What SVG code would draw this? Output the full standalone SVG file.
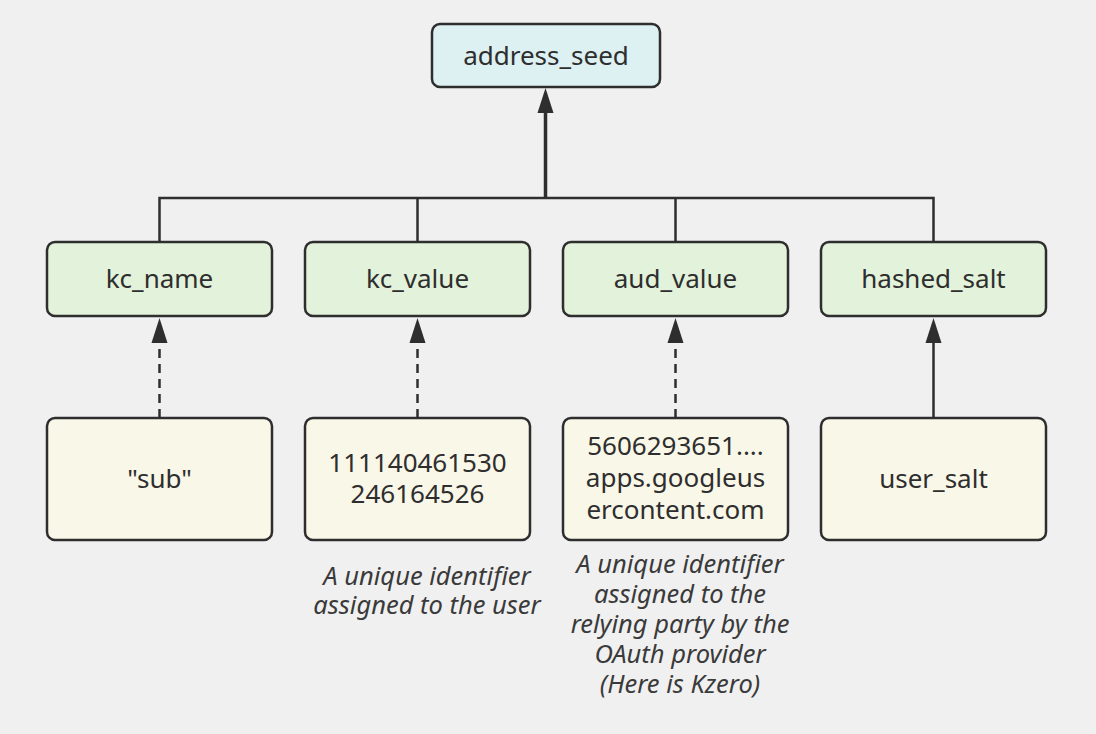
<svg xmlns="http://www.w3.org/2000/svg" width="1096" height="734" viewBox="0 0 1096 734">
<style>
.bg{fill:#f0f0f0}
.box{stroke:#2e2e2e;stroke-width:2.5}
.top{fill:#ddf1f3}
.mid{fill:#e3f2da}
.low{fill:#f9f7e8}
text{font-family:"Noto Sans","Open Sans","Liberation Sans",sans-serif;font-size:26px;fill:#2e2e2e;text-anchor:middle}
.note{font-style:italic;font-size:25.5px;fill:#3a3a3a}
.ln{stroke:#2e2e2e;stroke-width:2.5;fill:none}
.dash{stroke-dasharray:9 6}
.ah{fill:#2e2e2e}
</style>
<rect class="bg" width="1096" height="734"/>
<g id="connectors">
<line class="ln" x1="545.5" y1="199" x2="545.5" y2="112" style="stroke-width:3.5"/>
<path class="ah" d="M537.5,113 L545.5,88 L553.5,113 Z"/>
<polyline class="ln" points="159.5,242 159.5,198 933.5,198 933.5,242"/>
<line class="ln" x1="417.5" y1="198" x2="417.5" y2="242"/>
<line class="ln" x1="675.5" y1="198" x2="675.5" y2="242"/>
<line class="ln dash" x1="159.5" y1="418" x2="159.5" y2="343"/>
<path class="ah" d="M151.5,343 L159.5,318 L167.5,343 Z"/>
<line class="ln dash" x1="417.5" y1="418" x2="417.5" y2="343"/>
<path class="ah" d="M409.5,343 L417.5,318 L425.5,343 Z"/>
<line class="ln dash" x1="675.5" y1="418" x2="675.5" y2="343"/>
<path class="ah" d="M667.5,343 L675.5,318 L683.5,343 Z"/>
<line class="ln" x1="933.5" y1="418" x2="933.5" y2="343"/>
<path class="ah" d="M925.5,343 L933.5,318 L941.5,343 Z"/>
</g>
<g id="address_seed">
<rect class="box top" x="432" y="24" width="228" height="63" rx="8"/>
<text x="546" y="65">address_seed</text>
</g>
<g id="kc_name">
<rect class="box mid" x="47" y="242" width="225" height="74" rx="8"/>
<text x="159.5" y="288">kc_name</text>
</g>
<g id="kc_value">
<rect class="box mid" x="305" y="242" width="225" height="74" rx="8"/>
<text x="417.5" y="288">kc_value</text>
</g>
<g id="aud_value">
<rect class="box mid" x="563" y="242" width="225" height="74" rx="8"/>
<text x="675.5" y="288">aud_value</text>
</g>
<g id="hashed_salt">
<rect class="box mid" x="821" y="242" width="225" height="74" rx="8"/>
<text x="933.5" y="288">hashed_salt</text>
</g>
<g id="sub">
<rect class="box low" x="47" y="418" width="225" height="122" rx="8"/>
<text x="159.5" y="488">"sub"</text>
</g>
<g id="kc_value_ex">
<rect class="box low" x="305" y="418" width="225" height="122" rx="8"/>
<text x="417.5" y="472">111140461530</text>
<text x="417.5" y="503">246164526</text>
<text class="note" x="427" y="585">A unique identifier</text>
<text class="note" x="427" y="614">assigned to the user</text>
</g>
<g id="aud_value_ex">
<rect class="box low" x="563" y="418" width="225" height="122" rx="8"/>
<text x="675.5" y="455">5606293651....</text>
<text x="675.5" y="487">apps.googleus</text>
<text x="675.5" y="519">ercontent.com</text>
<text class="note" x="680" y="573">A unique identifier</text>
<text class="note" x="680" y="603">assigned to the</text>
<text class="note" x="680" y="633">relying party by the</text>
<text class="note" x="680" y="663">OAuth provider</text>
<text class="note" x="680" y="693">(Here is Kzero)</text>
</g>
<g id="user_salt">
<rect class="box low" x="821" y="418" width="225" height="122" rx="8"/>
<text x="933.5" y="488">user_salt</text>
</g>
</svg>
